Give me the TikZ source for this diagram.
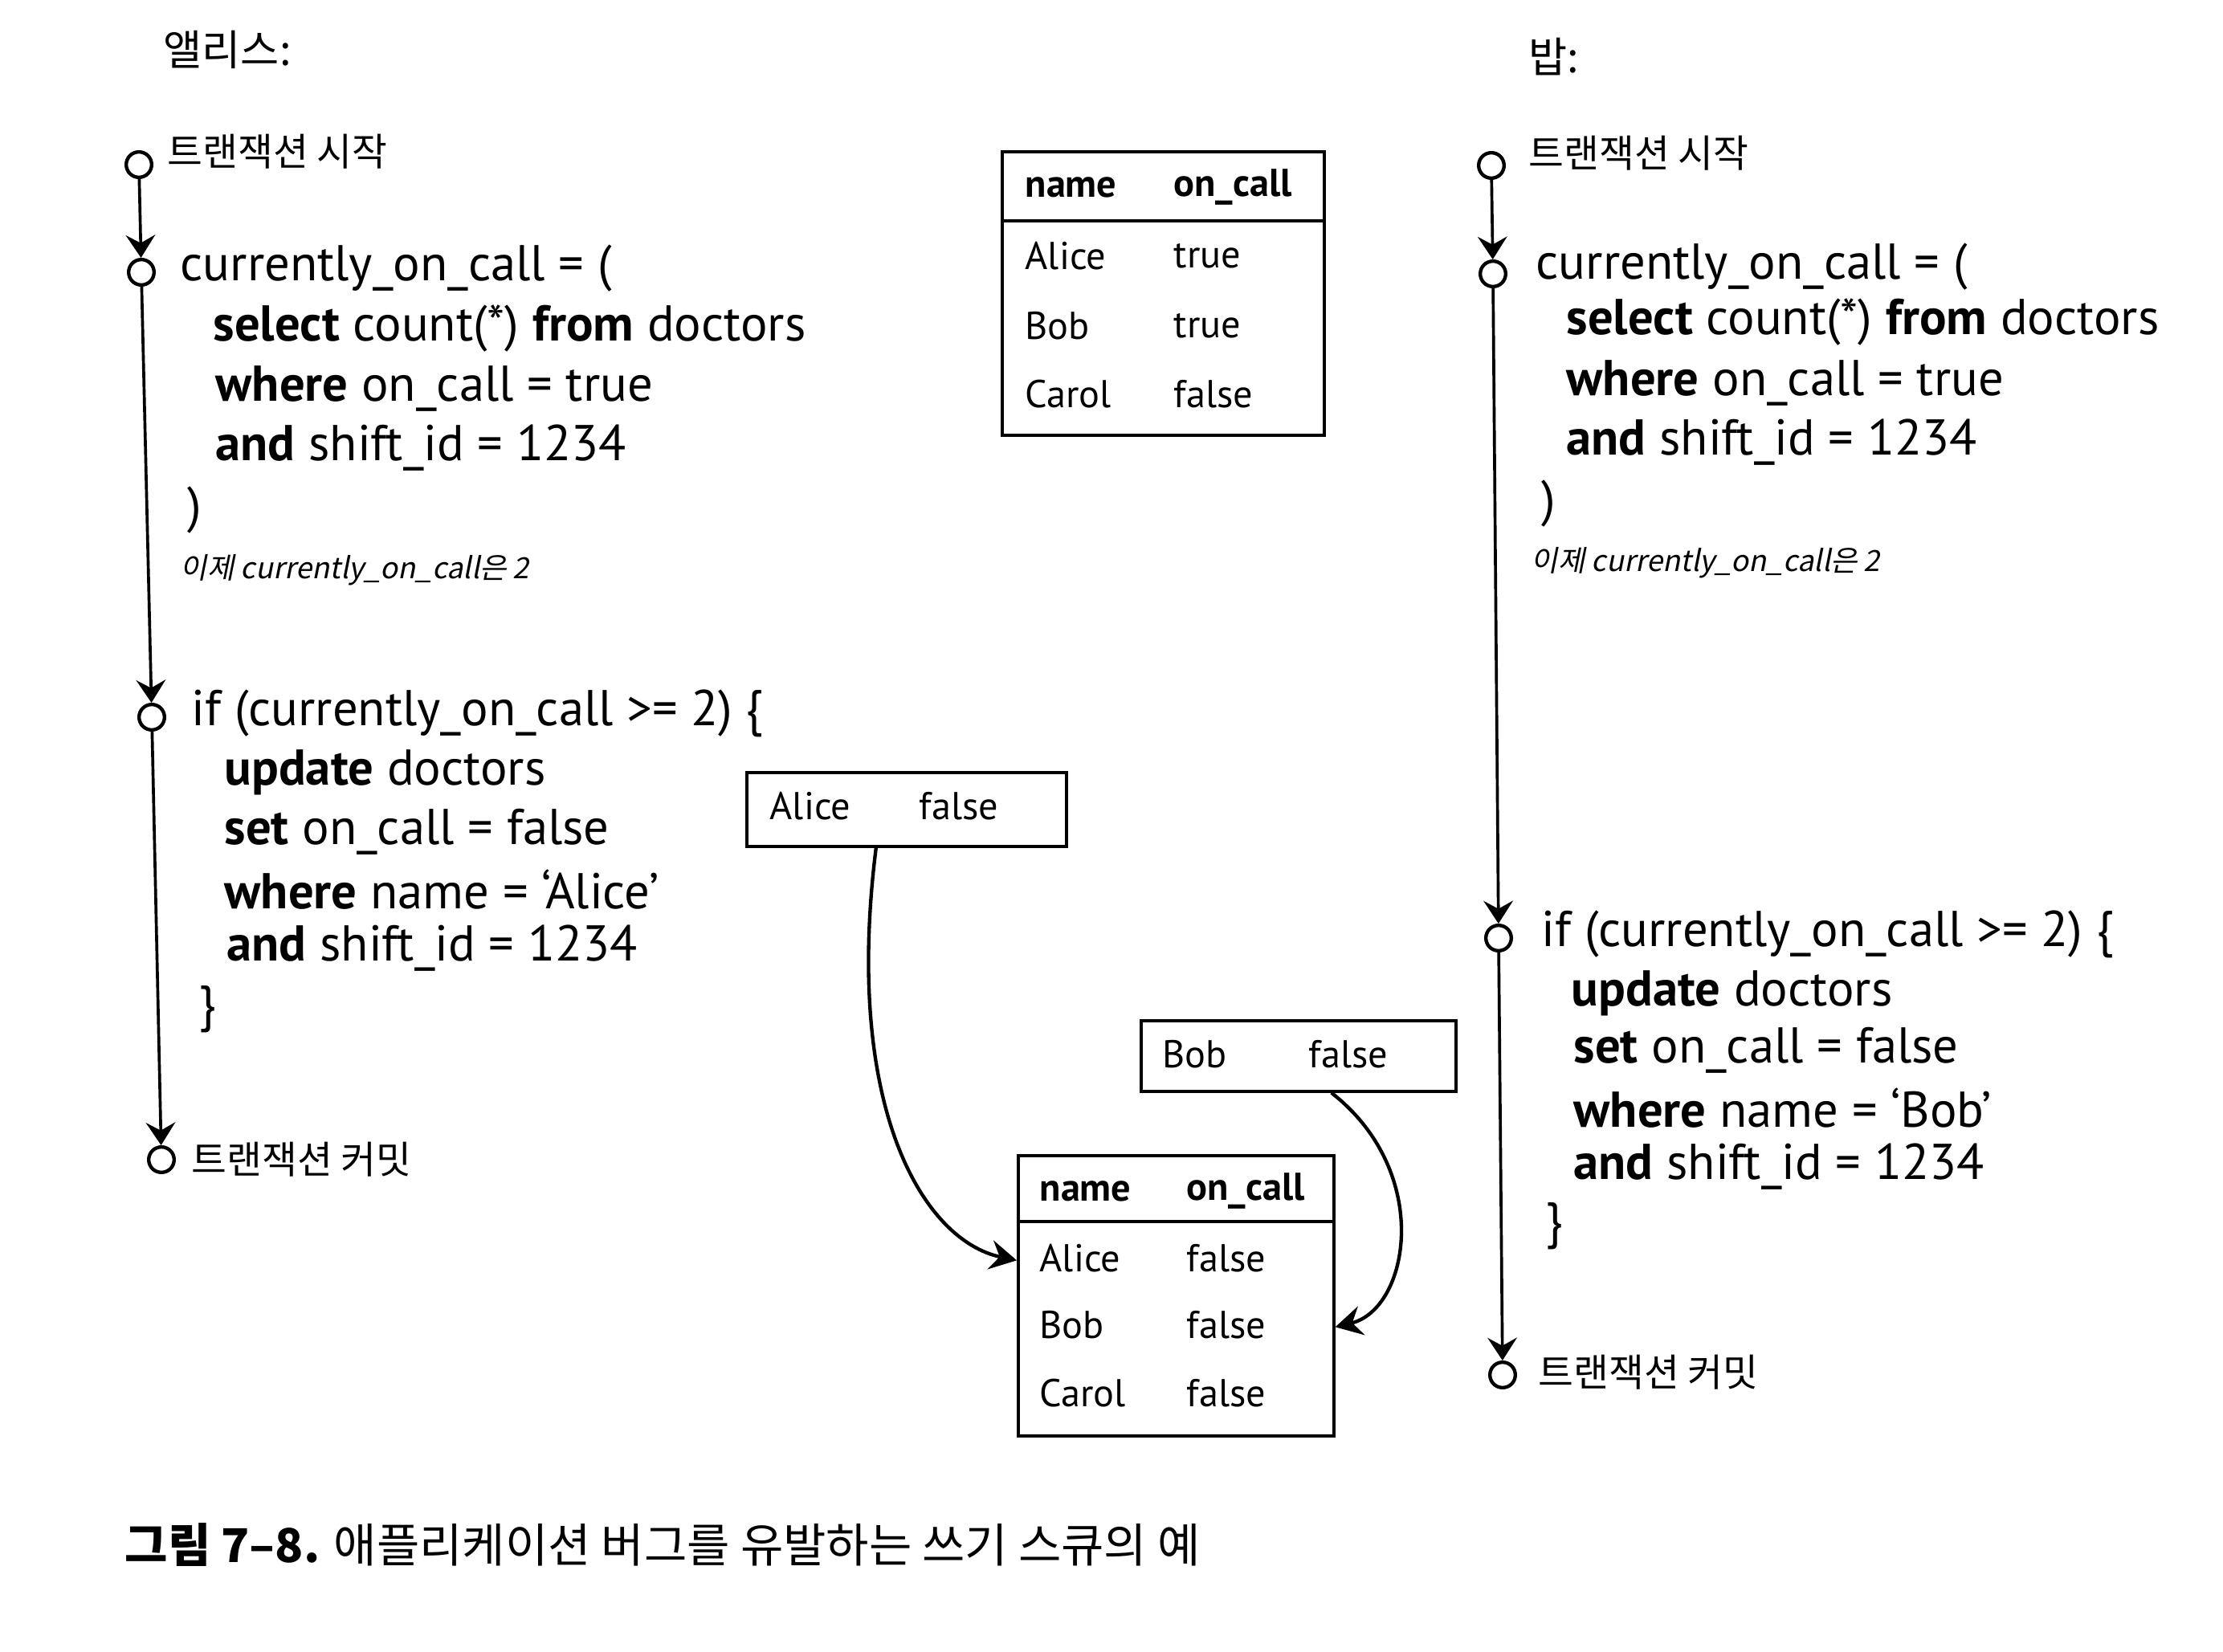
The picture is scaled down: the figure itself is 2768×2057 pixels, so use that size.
\documentclass[tikz,border=0pt]{standalone}
\usepackage{fontspec}
\setmainfont{PT Sans}
\newfontfamily\kr{Noto Sans CJK KR}
\newfontfamily\krit[FakeSlant=0.2]{Noto Sans CJK KR}
\usetikzlibrary{arrows.meta}
\begin{document}
\begin{tikzpicture}[x=0.3pt,y=-0.3pt,
  code/.style={anchor=west,inner sep=0,font=\fontsize{18.8}{21}\selectfont},
  krlab/.style={anchor=west,inner sep=0,font=\kr\fontsize{14.3}{16}\selectfont},
  who/.style={anchor=west,inner sep=0,font=\kr\fontsize{15.7}{17}\selectfont},
  note/.style={anchor=west,inner sep=0,font=\krit\fontsize{10.9}{12}\selectfont},
  tcirc/.style={circle,draw,line width=1.3pt,minimum size=9.5pt,inner sep=0},
  tline/.style={line width=1.1pt,-{Stealth[length=8.5pt,width=11pt,inset=3pt]}},
  cell/.style={anchor=west,inner sep=0,font=\fontsize{14.5}{16}\selectfont},
  box/.style={draw,line width=1.1pt,anchor=north west,inner sep=0},
  flow/.style={line width=1.3pt,-{Stealth[length=10pt,width=11pt,inset=3.5pt]}}
]
\useasboundingbox[fill=white] (0,0) rectangle (2768,2057);

% ---------- Alice ----------
\node[who] (alice) at (203,62) {앨리스:};
\node[tcirc] (ac1) at (173,205) {};
\node[krlab] (as) at (208,189) {트랜잭션 시작};
\node[tcirc] (ac2) at (176,339) {};
\node[code] (a1) at (224,334) {currently\_on\_call = (};
\node[code] (a2) at (265,409) {\textbf{select} count(*) \textbf{from} doctors};
\node[code] (a3) at (268,484) {\textbf{where} on\_call = true};
\node[code] (a4) at (268,558) {\textbf{and} shift\_id = 1234};
\node[code] (a5) at (233,635) {)};
\node[note] (an) at (224,710) {이제 currently\_on\_call은 2};
\node[tcirc] (ac3) at (189,893) {};
\node[code] (a6) at (238,888) {if (currently\_on\_call >= 2) \{};
\node[code] (a7) at (279,962) {\textbf{update} doctors};
\node[code] (a8) at (279,1036) {\textbf{set} on\_call = false};
\node[code] (a9) at (279,1108) {\textbf{where} name = ‘Alice’};
\node[code] (a10) at (282,1181) {\textbf{and} shift\_id = 1234};
\node[code] (a11) at (247,1257) {\}};
\node[tcirc] (ac4) at (201,1444) {};
\node[krlab] (acm) at (238,1444) {트랜잭션 커밋};
\draw[tline] (ac1) -- (ac2);
\draw[tline] (ac2) -- (ac3);
\draw[tline] (ac3) -- (ac4);

% ---------- Bob ----------
\node[who] (bob) at (1903,71) {밥:};
\node[tcirc] (bc1) at (1857,206) {};
\node[krlab] (bs) at (1903,191) {트랜잭션 시작};
\node[tcirc] (bc2) at (1859,341) {};
\node[code] (b1) at (1912,332) {currently\_on\_call = (};
\node[code] (b2) at (1950,401) {\textbf{select} count(*) \textbf{from} doctors};
\node[code] (b3) at (1950,477) {\textbf{where} on\_call = true};
\node[code] (b4) at (1950,551) {\textbf{and} shift\_id = 1234};
\node[code] (b5) at (1919,627) {)};
\node[note] (bn) at (1906,701) {이제 currently\_on\_call은 2};
\node[tcirc] (bc3) at (1866,1168) {};
\node[code] (b6) at (1919,1163) {if (currently\_on\_call >= 2) \{};
\node[code] (b7) at (1956,1237) {\textbf{update} doctors};
\node[code] (b8) at (1959,1308) {\textbf{set} on\_call = false};
\node[code] (b9) at (1959,1380) {\textbf{where} name = ‘Bob’};
\node[code] (b10) at (1959,1453) {\textbf{and} shift\_id = 1234};
\node[code] (b11) at (1924,1527) {\}};
\node[tcirc] (bc4) at (1871,1712) {};
\node[krlab] (bcm) at (1915,1709) {트랜잭션 커밋};
\draw[tline] (bc1) -- (bc2);
\draw[tline] (bc2) -- (bc3);
\draw[tline] (bc3) -- (bc4);

% ---------- table before ----------
\node[box,minimum width=120.3pt,minimum height=105.9pt] (t1) at (1246,187) {};
\draw[line width=1.1pt] (1246,275) -- (1647,275);
\node[cell] (t1h1) at (1276,233) {\textbf{name}};
\node[cell] (t1h2) at (1461,233) {\textbf{on\_call}};
\node[cell] (t1r1a) at (1276,319) {Alice};
\node[cell] (t1r1b) at (1461,319) {true};
\node[cell] (t1r2a) at (1276,406) {Bob};
\node[cell] (t1r2b) at (1461,406) {true};
\node[cell] (t1r3a) at (1276,491) {Carol};
\node[cell] (t1r3b) at (1461,491) {false};

% ---------- updates ----------
\node[box,minimum width=119.4pt,minimum height=27.6pt] (ab) at (928,960) {};
\node[cell] (aba) at (958,1004) {Alice};
\node[cell] (abb) at (1144,1004) {false};
\node[box,minimum width=117.6pt,minimum height=26.4pt] (bb) at (1419,1269) {};
\node[cell] (bba) at (1447,1313) {Bob};
\node[cell] (bbb) at (1629,1313) {false};

% ---------- table after ----------
\node[box,minimum width=117.9pt,minimum height=104.7pt] (t2) at (1266,1437) {};
\draw[line width=1.1pt] (1266,1521) -- (1659,1521);
\node[cell] (t2h1) at (1294,1483) {\textbf{name}};
\node[cell] (t2h2) at (1477,1483) {\textbf{on\_call}};
\node[cell] (t2r1a) at (1294,1567) {Alice};
\node[cell] (t2r1b) at (1477,1567) {false};
\node[cell] (t2r2a) at (1294,1650) {Bob};
\node[cell] (t2r2b) at (1477,1650) {false};
\node[cell] (t2r3a) at (1294,1735) {Carol};
\node[cell] (t2r3b) at (1477,1735) {false};

\draw[flow] ([xshift=-11.4pt]ab.south) .. controls (1050,1380) and (1150,1545) .. ([yshift=13.2pt]t2.west);
\draw[flow] ([xshift=12.3pt]bb.south) .. controls (1785,1460) and (1755,1630) .. ([yshift=-11.7pt]t2.east);

% ---------- caption ----------
\node[anchor=west,inner sep=0,font=\kr\fontsize{17.4}{19}\selectfont] (cap) at (155,1924) {\textbf{그림 7–8.} 애플리케이션 버그를 유발하는 쓰기 스큐의 예};
\end{tikzpicture}
\end{document}
